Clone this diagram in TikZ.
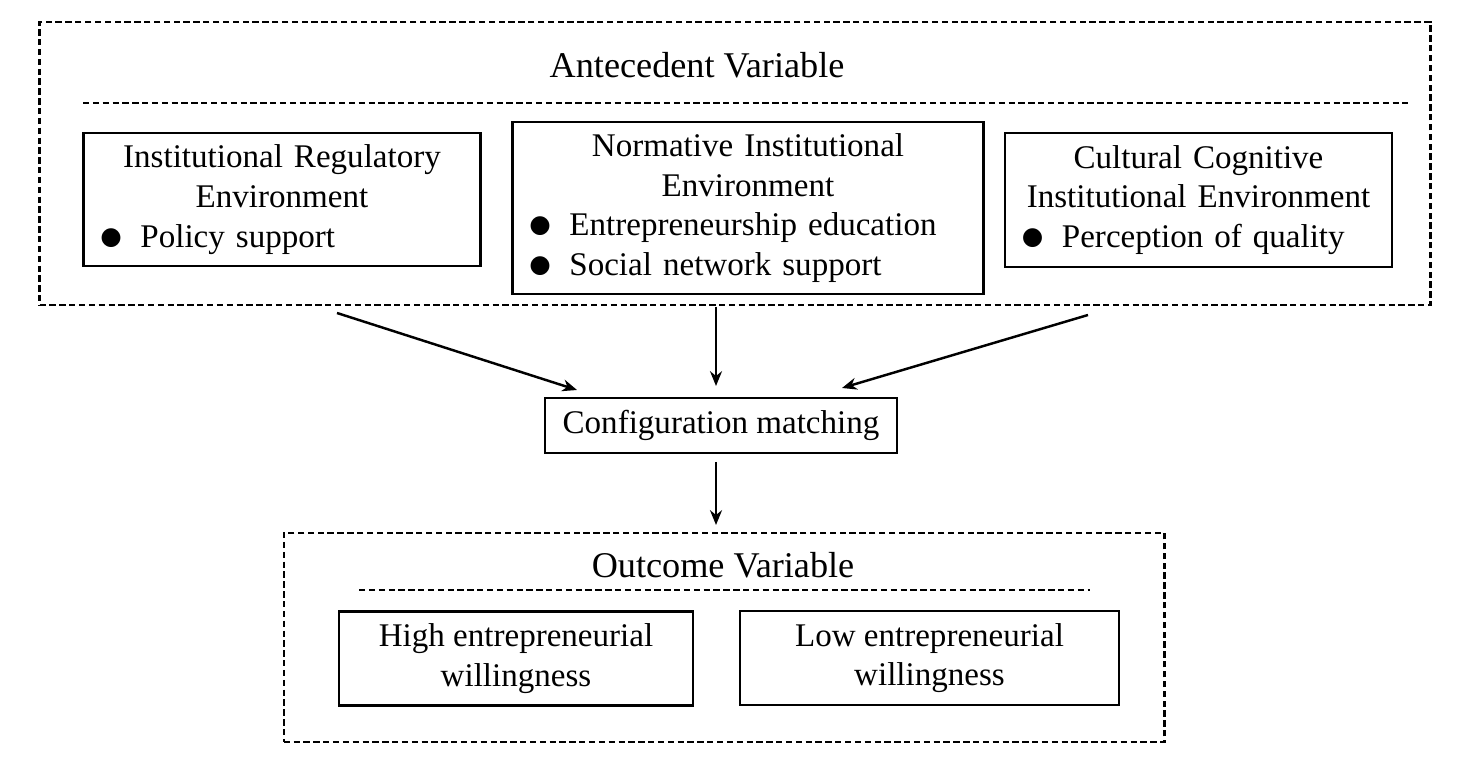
\documentclass[tikz,border=0pt]{standalone}
\usepackage{fontspec}
\setmainfont{Liberation Serif}
\newfontfamily\dotfont{DejaVu Sans}
\usetikzlibrary{arrows.meta,positioning}
\newcommand{\blt}{\makebox[0.40cm][l]{\raisebox{0.8pt}{\dotfont\fontsize{7}{7}\selectfont ●}}}

\begin{document}
\begin{tikzpicture}[x=0.01cm,y=-0.01cm,
  box/.style={draw,line width=0.7pt,inner xsep=0.17cm,inner ysep=0pt,outer sep=0pt,
    font=\fontsize{9.4}{11.3}\selectfont,align=center},
  bbox/.style={box,align=left},
  group/.style={draw,line width=0.7pt,dash pattern=on 1.8pt off 1pt,inner sep=0pt,outer sep=0pt},
  sep/.style={line width=0.7pt,dash pattern=on 1.8pt off 1pt},
  head/.style={font=\fontsize{10.3}{12}\selectfont},
  arr/.style={line width=0.7pt,-{Stealth[length=4.2pt,width=3.4pt]}}]
  \useasboundingbox (0,0) rectangle (1461,762);
  % antecedent group
  \node[group,minimum width=13.90cm,minimum height=2.83cm] (ante) at (735,163.5) {};
  \node[head] (antetitle) at (697,65) {Antecedent Variable};
  \draw[sep] (83,103) -- (1408,103);
  \node[bbox,text width=3.63cm,minimum height=1.33cm] (regul) at (282,199.5)
    {{\centering Institutional Regulatory\\Environment\par}\blt Policy support};
  \node[bbox,text width=4.37cm,minimum height=1.72cm] (norm) at (748,208)
    {{\centering Normative Institutional\\Environment\par}\blt Entrepreneurship education\\\blt Social network support};
  \node[bbox,text width=3.53cm,minimum height=1.34cm] (cult) at (1198.5,200)
    {{\centering Cultural Cognitive\\Institutional Environment\par}\blt Perception of quality};
  % matching
  \node[box,minimum width=3.52cm,minimum height=0.55cm] (cfg) at (721,425.5) {Configuration matching};
  % outcome group
  \node[group,minimum width=8.80cm,minimum height=2.09cm] (outc) at (724,637.5) {};
  \node[head] (outctitle) at (723,565) {Outcome Variable};
  \draw[sep] (359,590) -- (1090,590);
  \node[box,minimum width=3.54cm,minimum height=0.94cm] (high) at (516,658.5) {High entrepreneurial\\willingness};
  \node[box,minimum width=3.79cm,minimum height=0.94cm] (low) at (929.5,658) {Low entrepreneurial\\willingness};
  % arrows
  \coordinate (lfrom) at (337,313);
  \coordinate (lto) at (577,390);
  \coordinate (mfrom) at (716,307);
  \coordinate (mto) at (716,386);
  \coordinate (rfrom) at (1088,315);
  \coordinate (rto) at (842,388);
  \coordinate (dfrom) at (716,462);
  \coordinate (dto) at (716,525);
  \draw[arr] (lfrom) -- (lto);
  \draw[arr] (mfrom) -- (mto);
  \draw[arr] (rfrom) -- (rto);
  \draw[arr] (dfrom) -- (dto);
\end{tikzpicture}
\end{document}
